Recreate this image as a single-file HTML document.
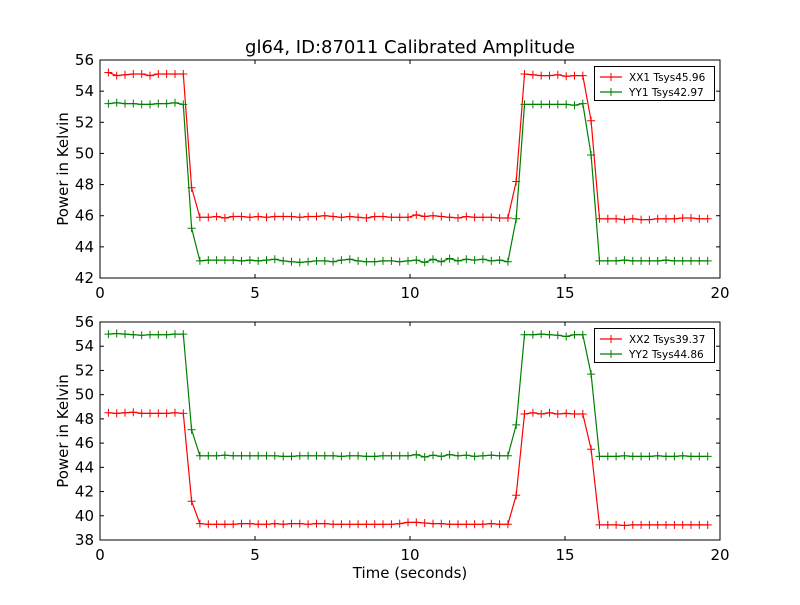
<!DOCTYPE html>
<html><head><meta charset="utf-8"><style>
body{margin:0;background:#fff;font-family:"Liberation Sans","DejaVu Sans",sans-serif;}
svg text{font-family:"DejaVu Sans","Liberation Sans",sans-serif;}
</style></head><body>
<svg id="c" width="800" height="600" viewBox="0 0 800 600" xmlns="http://www.w3.org/2000/svg">
<rect width="800" height="600" fill="#fff"/>
<text x="410" y="53" font-size="18" text-anchor="middle">gl64, ID:87011 Calibrated Amplitude</text>
<text x="410" y="578" font-size="15" text-anchor="middle">Time (seconds)</text>
</svg>
<script>
const xTicks=[0,5,10,15,20];
const yTicksTop=[42,44,46,48,50,52,54,56];
const yTicksBot=[38,40,42,44,46,48,50,52,54,56];
const t0=0.27, dt=0.2685, nPts=73;
const xx1=[55.2,55.0,55.05,55.1,55.1,55.0,55.1,55.1,55.1,55.1,47.8,
45.9,45.9,45.95,45.85,45.95,45.95,45.9,45.95,45.9,45.95,45.95,45.95,45.9,45.95,45.95,46.0,45.95,45.9,45.95,45.9,45.85,45.95,45.95,45.9,45.9,45.9,46.05,45.95,46.0,45.95,45.9,45.85,45.95,45.9,45.9,45.9,45.85,45.85,
48.2,55.1,55.05,55.0,55.0,55.05,54.95,55.0,55.0,52.1,
45.8,45.8,45.8,45.75,45.8,45.75,45.75,45.8,45.8,45.8,45.85,45.85,45.8,45.8];
const yy1=[53.2,53.25,53.2,53.2,53.15,53.15,53.2,53.2,53.25,53.15,45.2,
43.1,43.15,43.15,43.15,43.15,43.1,43.15,43.1,43.15,43.2,43.1,43.05,43.0,43.05,43.1,43.1,43.05,43.15,43.2,43.1,43.05,43.05,43.1,43.1,43.05,43.1,43.15,43.0,43.2,43.05,43.25,43.1,43.2,43.15,43.2,43.1,43.15,43.05,
45.8,53.15,53.15,53.15,53.15,53.15,53.15,53.1,53.2,49.9,
43.1,43.1,43.1,43.15,43.1,43.1,43.1,43.1,43.15,43.1,43.1,43.1,43.1,43.1];
const xx2=[48.5,48.45,48.5,48.55,48.45,48.45,48.45,48.45,48.5,48.45,41.2,
39.35,39.3,39.3,39.3,39.3,39.35,39.35,39.3,39.3,39.35,39.3,39.35,39.35,39.3,39.35,39.35,39.3,39.3,39.3,39.3,39.3,39.3,39.3,39.3,39.35,39.45,39.45,39.4,39.35,39.35,39.3,39.3,39.3,39.3,39.3,39.35,39.3,39.3,
41.7,48.4,48.5,48.4,48.5,48.4,48.45,48.4,48.4,45.5,
39.25,39.25,39.25,39.2,39.25,39.25,39.25,39.25,39.25,39.25,39.25,39.25,39.25,39.25];
const yy2=[55.0,55.05,55.0,54.95,54.9,54.95,54.95,54.95,55.0,55.0,47.1,
44.95,44.95,44.95,45.0,44.95,44.95,44.95,44.95,44.95,44.95,44.9,44.9,44.95,44.95,44.95,44.95,44.95,44.9,44.95,44.95,44.9,44.9,44.95,44.95,44.95,44.95,45.05,44.85,45.0,44.9,45.05,44.95,45.0,44.9,44.95,45.0,44.95,44.95,
47.5,54.95,54.95,55.0,54.95,54.9,54.8,54.95,54.95,51.7,
44.9,44.9,44.9,44.95,44.9,44.9,44.9,44.95,44.9,44.9,44.95,44.9,44.9,44.9];
const labelsTop=["XX1 Tsys45.96","YY1 Tsys42.97"];
const labelsBot=["XX2 Tsys39.37","YY2 Tsys44.86"];
const NS="http://www.w3.org/2000/svg";
const svg=document.getElementById('c');
function mk(tag,attrs,parent){const e=document.createElementNS(NS,tag);for(const k in attrs)e.setAttribute(k,attrs[k]);(parent||svg).appendChild(e);return e;}
const X0=100,X1=720;
function xs(v){return X0+(v-0)/(20-0)*(X1-X0);}
function panel(name,top,bot,ymin,ymax,yt,series,labels,showXLabelY){
  const g=mk('g',{});
  
  
  const ys=v=>bot-(v-ymin)/(ymax-ymin)*(bot-top);
  const colors=['#ff0000','#008000'];
  series.forEach((s,si)=>{
    let d='';
    s.forEach((v,i)=>{const x=xs(t0+i*dt),y=ys(v);d+=(i?'L':'M')+x.toFixed(1)+' '+y.toFixed(1);});
    const p=mk('path',{d:d,fill:'none',stroke:colors[si],'stroke-width':1.2},g);
    
    
    let md='';
    s.forEach((v,i)=>{const x=xs(t0+i*dt),y=ys(v);md+=`M${(x-4).toFixed(1)} ${y.toFixed(1)}h8M${x.toFixed(1)} ${(y-4).toFixed(1)}v8`;});
    const m=mk('path',{d:md,fill:'none',stroke:colors[si],'stroke-width':1},g);
    
    
  });
  const fr=mk('rect',{x:X0,y:top,width:X1-X0,height:bot-top,fill:'none',stroke:'#000','stroke-width':1},g);
  
  
  xTicks.forEach(v=>{
    const x=xs(v);
    mk('line',{x1:x,y1:bot,x2:x,y2:bot-4,stroke:'#000'},g);
    mk('line',{x1:x,y1:top,x2:x,y2:top+4,stroke:'#000'},g);
    const t=mk('text',{x:x,y:bot+20,'font-size':15,'text-anchor':'middle'},g);
    t.textContent=v;
    
    
  });
  yt.forEach(v=>{
    const y=ys(v);
    mk('line',{x1:X0,y1:y,x2:X0+4,y2:y,stroke:'#000'},g);
    mk('line',{x1:X1,y1:y,x2:X1-4,y2:y,stroke:'#000'},g);
    const t=mk('text',{x:X0-6,y:y+5,'font-size':15,'text-anchor':'end'},g);
    t.textContent=v;
    
    
  });
  const yl=mk('text',{x:0,y:0,'font-size':15,'text-anchor':'middle',transform:`translate(68,${(top+bot)/2}) rotate(-90)`},g);
  yl.textContent='Power in Kelvin';
  
  
  const lg=mk('g',{},g);
  
  
  mk('rect',{x:594.5,y:top+6.5,width:120,height:34,fill:'#fff',stroke:'#000'},lg);
  labels.forEach((l,i)=>{
    const y=top+17+i*15;
    mk('line',{x1:600,y1:y,x2:622,y2:y,stroke:colors[i],'stroke-width':1.2},lg);
    mk('path',{d:`M607 ${y}h8M611 ${y-4}v8`,stroke:colors[i],fill:'none'},lg);
    const t=mk('text',{x:629,y:y+4,'font-size':10.5},lg);
    t.textContent=l;
    
    
  });
}
panel('top-panel',60,278,42,56,yTicksTop,[xx1,yy1],labelsTop);
panel('bottom-panel',322,540,38,56,yTicksBot,[xx2,yy2],labelsBot);
</script>
</body></html>
